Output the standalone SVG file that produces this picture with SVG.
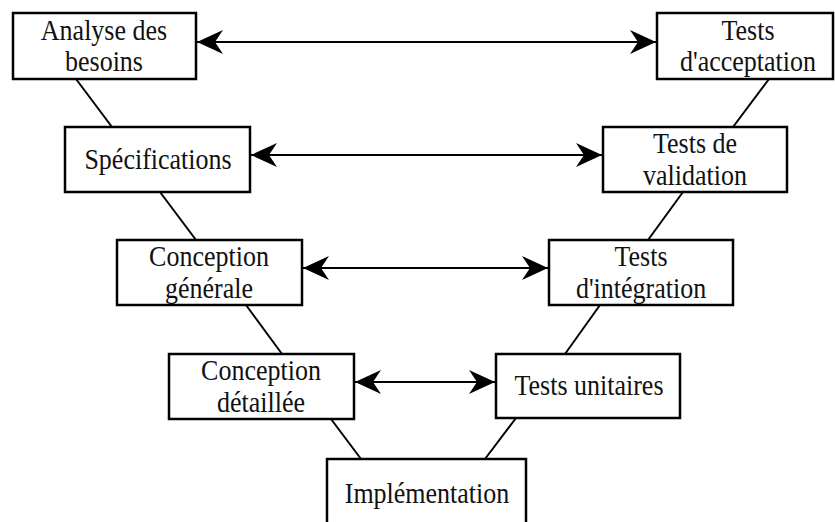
<svg xmlns="http://www.w3.org/2000/svg" width="835" height="522" viewBox="0 0 835 522">
<style>
.box{fill:#fff;stroke:#000;stroke-width:2.5}
.t{font-family:"Liberation Serif","Times New Roman",serif;font-size:26px;fill:#111;text-anchor:middle}
.ln{stroke:#000;stroke-width:2;fill:none}
.ar{stroke:#000;stroke-width:2;fill:none;marker-start:url(#ah);marker-end:url(#ah)}
</style>
<defs>
<marker id="ah" viewBox="0 0 26 26" refX="26" refY="13" markerWidth="26" markerHeight="26" markerUnits="userSpaceOnUse" orient="auto-start-reverse">
<path d="M0,1 L26,13 L0,25 L8,13 z" fill="#000"/>
</marker>
</defs>
<rect width="835" height="522" fill="#fff"/>
<g id="connectors">
<line class="ln" x1="76" y1="79" x2="112" y2="127"/>
<line class="ln" x1="160" y1="192" x2="196" y2="240"/>
<line class="ln" x1="246" y1="305" x2="282" y2="354"/>
<line class="ln" x1="331" y1="419" x2="361" y2="459"/>
<line class="ln" x1="769" y1="79" x2="733" y2="127"/>
<line class="ln" x1="683" y1="192" x2="648" y2="240"/>
<line class="ln" x1="600" y1="305" x2="565" y2="354"/>
<line class="ln" x1="516" y1="418" x2="485" y2="459"/>
<line class="ar" x1="197" y1="42" x2="656" y2="42"/>
<line class="ar" x1="251" y1="155" x2="602" y2="155"/>
<line class="ar" x1="303" y1="268" x2="548" y2="268"/>
<line class="ar" x1="355" y1="382" x2="495" y2="382"/>
</g>
<g id="analyse">
<rect class="box" x="13" y="13" width="183" height="66"/>
<text class="t" transform="translate(104,40) scale(1,1.14)">Analyse des</text>
<text class="t" transform="translate(104,71) scale(1,1.14)">besoins</text>
</g>
<g id="acceptation">
<rect class="box" x="657" y="13" width="176" height="66"/>
<text class="t" transform="translate(748,40) scale(1,1.14)">Tests</text>
<text class="t" transform="translate(748,71) scale(1,1.14)">d'acceptation</text>
</g>
<g id="specifications">
<rect class="box" x="65" y="127" width="185" height="65"/>
<text class="t" transform="translate(158,169) scale(1,1.14)">Spécifications</text>
</g>
<g id="validation">
<rect class="box" x="603" y="127" width="184" height="65"/>
<text class="t" transform="translate(695,153) scale(1,1.14)">Tests de</text>
<text class="t" transform="translate(695,185) scale(1,1.14)">validation</text>
</g>
<g id="conception-generale">
<rect class="box" x="117" y="240" width="185" height="65"/>
<text class="t" transform="translate(209,266) scale(1,1.14)">Conception</text>
<text class="t" transform="translate(209,298) scale(1,1.14)">générale</text>
</g>
<g id="integration">
<rect class="box" x="549" y="240" width="184" height="65"/>
<text class="t" transform="translate(641,266) scale(1,1.14)">Tests</text>
<text class="t" transform="translate(641,298) scale(1,1.14)">d'intégration</text>
</g>
<g id="conception-detaillee">
<rect class="box" x="169" y="354" width="185" height="65"/>
<text class="t" transform="translate(261,380) scale(1,1.14)">Conception</text>
<text class="t" transform="translate(261,412) scale(1,1.14)">détaillée</text>
</g>
<g id="unitaires">
<rect class="box" x="496" y="354" width="184" height="64"/>
<text class="t" transform="translate(589,395) scale(1,1.14)">Tests unitaires</text>
</g>
<g id="implementation">
<rect class="box" x="327" y="459" width="199" height="75"/>
<text class="t" transform="translate(427,503) scale(1,1.14)">Implémentation</text>
</g>
</svg>
